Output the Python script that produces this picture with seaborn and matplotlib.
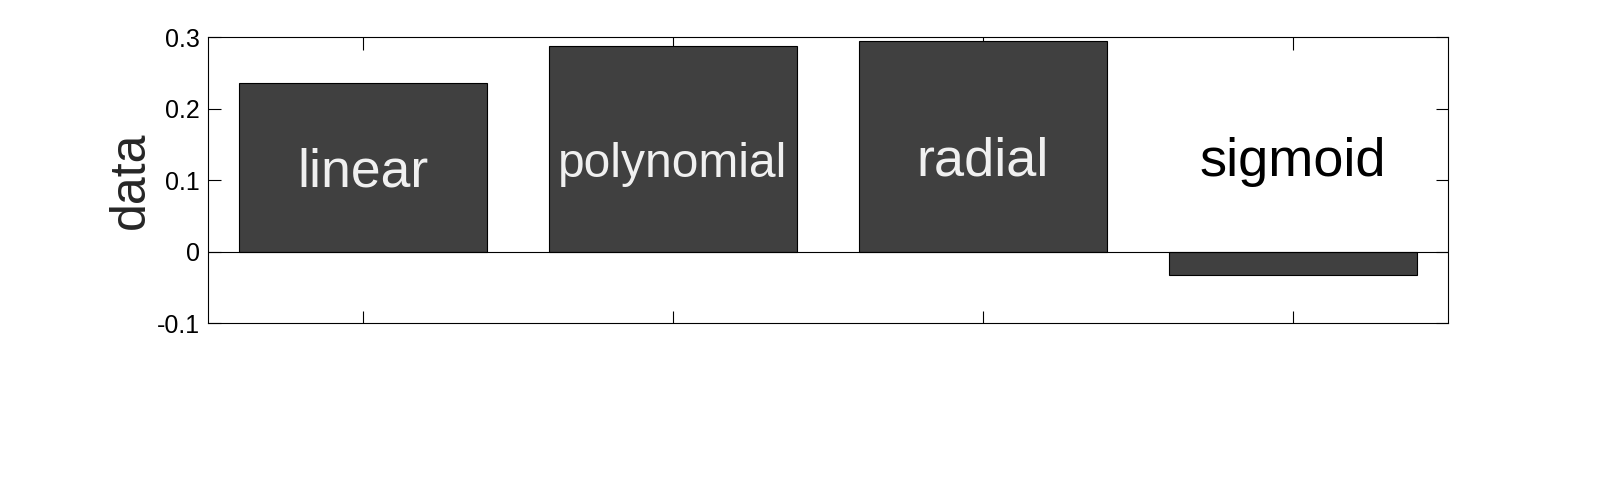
import matplotlib
matplotlib.use("Agg")
import matplotlib.pyplot as plt
import seaborn as sns
import pandas as pd

# kernel results
kernels = ["linear", "polynomial", "radial", "sigmoid"]
scores = [0.2357, 0.2874, 0.2944, -0.0329]

# label placement (baseline, data units) and look
label_y = [0.091, 0.105, 0.106, 0.106]
label_size = [38.5, 34.5, 39, 39]
label_color = ["#f0f0f0", "#f0f0f0", "#f0f0f0", "black"]

sns.set_theme(style="ticks")
plt.rcParams["font.family"] = ["Liberation Sans", "DejaVu Sans"]

df = pd.DataFrame({"kernel": kernels, "score": scores})

fig = plt.figure(figsize=(16, 4.97), dpi=100)
ax = fig.add_axes([0.13, 0.35, 0.775, 0.575])

sns.barplot(data=df, x="kernel", y="score", color="#404040", saturation=1,
            edgecolor="black", linewidth=0.8, width=0.8, ax=ax)

ax.axhline(0, color="black", linewidth=0.8, zorder=3)

for i, name in enumerate(kernels):
    ax.text(i, label_y[i], name, ha="center", va="baseline",
            fontsize=label_size[i], color=label_color[i])

ax.set_xlim(-0.5, 3.5)
ax.set_ylim(-0.1, 0.3)
ax.set_yticks([-0.1, 0, 0.1, 0.2, 0.3])
ax.set_yticklabels(["-0.1", "0", "0.1", "0.2", "0.3"])
ax.set_xticklabels([])
ax.set_xlabel("")
ax.set_ylabel("data", fontsize=36, labelpad=2)

ax.tick_params(axis="both", direction="in", length=9, width=0.8,
               top=True, right=True, labelsize=18, colors="black")
ax.tick_params(axis="y", pad=6)
for sp in ax.spines.values():
    sp.set_visible(True)
    sp.set_linewidth(0.8)
    sp.set_color("black")

fig.savefig("out.png", dpi=100, facecolor="white")
